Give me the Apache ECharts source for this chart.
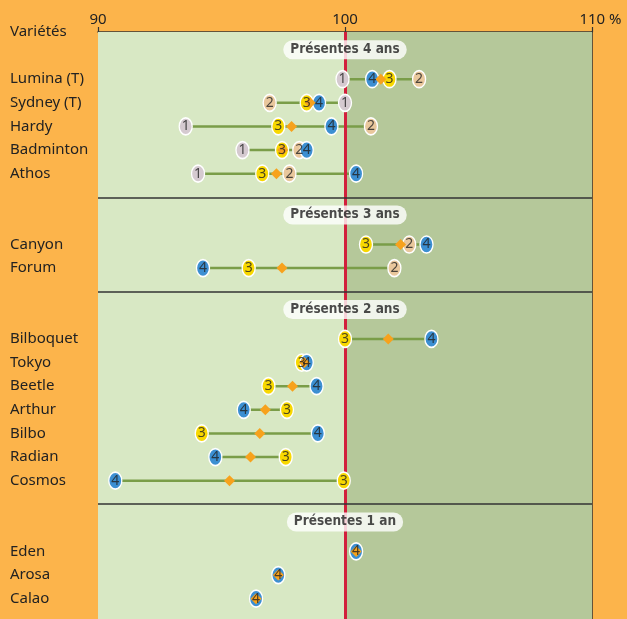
<!DOCTYPE html>
<html>
<head>
<meta charset="utf-8">
<script src="https://cdn.jsdelivr.net/npm/echarts@6/dist/echarts.min.js"></script>
<style>html,body{margin:0;padding:0;background:#fcb44b;}#c{width:627px;height:619px;}</style>
</head>
<body>
<div id="c"></div>
<script>
// ---- data ----
const sections = ['Présentes 4 ans', 'Présentes 3 ans', 'Présentes 2 ans', 'Présentes 1 an'];
const sectionSizes = [5, 2, 7, 3];
const varieties = ['Lumina (T)', 'Sydney (T)', 'Hardy', 'Badminton', 'Athos',
  'Canyon', 'Forum',
  'Bilboquet', 'Tokyo', 'Beetle', 'Arthur', 'Bilbo', 'Radian', 'Cosmos',
  'Eden', 'Arosa', 'Calao'];
const year1 = [99.9, 100.0, 93.55, 95.85, 94.05, null, null, null, null, null, null, null, null, null, null, null, null];
const year2 = [103.0, 96.95, 101.05, 98.15, 97.75, 102.6, 102.0, null, null, null, null, null, null, null, null, null, null];
const year3 = [101.8, 98.45, 97.3, 97.45, 96.65, 100.85, 96.1, 100.0, 98.25, 96.9, 97.65, 94.2, 97.6, 99.95, null, null, null];
const year4 = [101.1, 98.95, 99.45, 98.45, 100.45, 103.3, 94.25, 103.5, 98.45, 98.85, 95.9, 98.9, 94.75, 90.7, 100.45, 97.3, 96.4];
const xTickLabels = {90: '90', 100: '100', 110: '110 %'};
const yearLabels = ['1', '2', '3', '4'];

// ---- layout from structure ----
const rowPos = [];
const headerPos = [];
const sepPos = [];
let start = 0;
sectionSizes.forEach((n, k) => {
  headerPos.push(start + 0.75);
  for (let j = 0; j < n; j++) rowPos.push(start + 2 + j);
  start = start + 2 + n;
  if (k < sectionSizes.length - 1) sepPos.push(start);
});
const yLabelMap = {0: 'Variétés'};
varieties.forEach((v, i) => { yLabelMap[rowPos[i]] = v; });

const years = [year1, year2, year3, year4];
const yearColors = ['#d5cad0', '#e9c79c', '#f8d800', '#3c8fd2'];

const rangeData = varieties.map((v, i) => {
  const vals = years.map(y => y[i]).filter(x => x != null);
  return [Math.min(...vals), Math.max(...vals), rowPos[i]];
});
const meanData = varieties.map((v, i) => {
  const vals = years.map(y => y[i]).filter(x => x != null);
  return [vals.reduce((a, b) => a + b, 0) / vals.length, rowPos[i]];
});

const ellipse = 'path://M0,-1A1,1 0 1,1 0,1A1,1 0 1,1 0,-1Z';
const YMAX = 24.86;
const series = [];

// backgrounds
series.push({
  type: 'scatter', data: [], z: 1, silent: true,
  markArea: { silent: true, itemStyle: { opacity: 1 }, data: [
    [{ xAxis: 90, itemStyle: { color: '#d8e8c4' } }, { xAxis: 100 }],
    [{ xAxis: 100, itemStyle: { color: '#b5c89a' } }, { xAxis: 110 }]
  ] }
});
// red reference line
series.push({
  type: 'scatter', data: [], z: 2, silent: true,
  markLine: { silent: true, symbol: 'none', label: { show: false },
    lineStyle: { color: '#d21f3c', width: 3, type: 'solid' },
    data: [{ xAxis: 100 }] }
});
// separators
series.push({
  type: 'scatter', data: [], z: 3, silent: true,
  markLine: { silent: true, symbol: 'none', label: { show: false },
    lineStyle: { color: '#333333', width: 1.5, type: 'solid' },
    data: sepPos.map(p => ({ yAxis: p })) }
});
// range lines
series.push({
  type: 'custom', z: 4, silent: true,
  data: rangeData,
  renderItem: (params, api) => {
    const a = api.coord([api.value(0), api.value(2)]);
    const b = api.coord([api.value(1), api.value(2)]);
    return { type: 'line', shape: { x1: a[0], y1: a[1], x2: b[0], y2: b[1] },
      style: { stroke: '#7a9d48', lineWidth: 2.5 } };
  }
});
// ellipses
years.forEach((y, k) => {
  series.push({
    type: 'scatter', z: 5 + k * 0.1, symbol: ellipse, symbolSize: [13, 17],
    itemStyle: { color: yearColors[k], borderColor: '#ffffff', borderWidth: 1.5, opacity: 1 },
    data: y.map((v, i) => v == null ? null : [v, rowPos[i]]).filter(d => d)
  });
});
// means
series.push({
  type: 'scatter', z: 6, symbol: 'diamond', symbolSize: [11, 11],
  itemStyle: { color: '#f7a21d', opacity: 1 },
  data: meanData
});
// digits
years.forEach((y, k) => {
  series.push({
    type: 'scatter', z: 7 + k * 0.1, symbolSize: 1,
    itemStyle: { color: 'rgba(0,0,0,0)' },
    label: { show: true, position: 'inside', formatter: yearLabels[k],
      fontSize: 14, color: '#222222', fontFamily: 'Noto Sans' },
    data: y.map((v, i) => v == null ? null : [v, rowPos[i]]).filter(d => d)
  });
});
// section headers
series.push({
  type: 'scatter', z: 9, symbolSize: 1, itemStyle: { color: 'rgba(0,0,0,0)' },
  label: { show: true, position: 'inside', formatter: p => sections[p.dataIndex],
    backgroundColor: '#ffffff', borderRadius: 11, padding: [3, 7, 2, 7],
    fontSize: 13.5, fontWeight: 'bold', color: '#1e1e1e',
    fontFamily: '"DejaVu Sans Condensed", Roboto, sans-serif' },
  data: headerPos.map(p => [100, p])
});

const chart = echarts.init(document.getElementById('c'), null, { renderer: 'canvas' });
chart.setOption({
  backgroundColor: '#fcb44b',
  animation: false,
  textStyle: { fontFamily: 'Noto Sans' },
  grid: { left: 98, right: 35, top: 32, bottom: 0, containLabel: false },
  xAxis: {
    type: 'value', position: 'top', min: 90, max: 110, interval: 10,
    axisLine: { show: true, lineStyle: { color: '#333333', width: 1.5 } },
    axisTick: { show: true, length: 5, lineStyle: { color: '#333333', width: 1.2 } },
    splitLine: { show: false },
    axisLabel: { fontSize: 15, color: '#222222', margin: 5,
      formatter: v => v === 110 ? '{p|}' + xTickLabels[v] : (xTickLabels[v] || ''),
      rich: { p: { width: 17 } } }
  },
  yAxis: [{
    type: 'value', inverse: true, min: 0, max: YMAX, interval: 1,
    axisLine: { show: false }, axisTick: { show: false }, splitLine: { show: false },
    axisLabel: { show: true, align: 'left', margin: 88, fontSize: 15, color: '#222222',
      showMaxLabel: false, formatter: v => yLabelMap[v] || '' }
  }, {
    type: 'value', inverse: true, min: 0, max: YMAX, position: 'right',
    axisLine: { show: true, lineStyle: { color: '#333333', width: 1.5 } },
    axisTick: { show: false }, axisLabel: { show: false }, splitLine: { show: false }
  }],
  series: series
});
</script>
</body>
</html>
